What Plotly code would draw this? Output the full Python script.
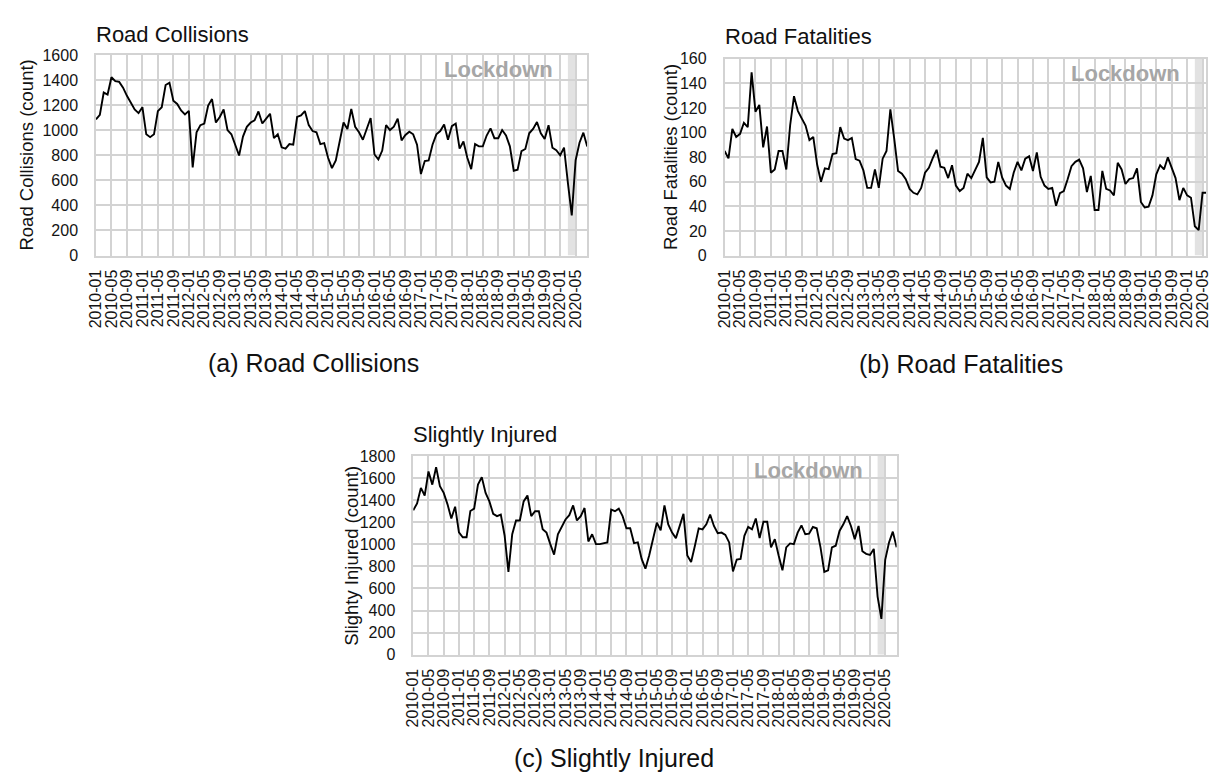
import plotly.graph_objects as go

# ---------------- data ----------------
months = [f"{y}-{m:02d}" for y in range(2010, 2021) for m in range(1, 13)][:128]  # 2010-01 .. 2020-08

tick_labels = ["2010-01", "2010-05", "2010-09", "2011-01", "2011-05", "2011-09",
               "2012-01", "2012-05", "2012-09", "2013-01", "2013-05", "2013-09",
               "2014-01", "2014-05", "2014-09", "2015-01", "2015-05", "2015-09",
               "2016-01", "2016-05", "2016-09", "2017-01", "2017-05", "2017-09",
               "2018-01", "2018-05", "2018-09", "2019-01", "2019-05", "2019-09",
               "2020-01", "2020-05"]

road_collisions = [
    1087, 1123, 1300, 1284, 1422, 1391, 1385, 1339, 1274, 1217,
    1165, 1136, 1183, 967, 944, 967, 1152, 1183, 1360, 1378,
    1235, 1209, 1157, 1126, 1154, 702, 983, 1040, 1053, 1196,
    1248, 1061, 1105, 1165, 1001, 967, 884, 798, 949, 1027,
    1061, 1079, 1149, 1053, 1092, 1131, 936, 967, 863, 853,
    889, 884, 1105, 1118, 1152, 1040, 993, 983, 889, 897,
    780, 697, 759, 923, 1061, 1009, 1170, 1027, 983, 923,
    1009, 1097, 806, 767, 837, 1040, 1001, 1027, 1092, 918,
    962, 988, 967, 884, 650, 754, 759, 884, 967, 993,
    1045, 923, 1032, 1053, 853, 910, 780, 689, 889, 871,
    871, 957, 1014, 936, 936, 1001, 957, 871, 676, 684,
    833, 850, 975, 1010, 1065, 975, 930, 1040, 860, 840,
    800, 860, 580, 320, 760, 900, 980, 870]

road_fatalities = [
    85, 79, 103, 96.5, 99, 108, 104.5, 149, 117, 122.5,
    88, 105, 67.4, 70, 85, 85, 70, 106, 129.6, 117.7,
    111.6, 105.8, 93.9, 96.5, 74, 60, 70.9, 70.3, 82.5, 83.3,
    104.5, 95.2, 93.9, 95.7, 78.5, 77.2, 69.3, 55, 55, 70,
    55, 78.8, 85, 119, 95.2, 68.8, 66.6, 62.1, 54.2, 51,
    49.7, 55, 67.4, 71.4, 79.3, 86, 72.2, 71.4, 63, 73.5,
    56.9, 52.4, 55, 66.6, 63, 69.3, 76.2, 95.7, 63.5, 59.5,
    60, 76.2, 63.5, 56.9, 54.2, 67.4, 76.2, 69.3, 78.8, 80.7,
    68.8, 83.8, 64, 56.9, 54.2, 55, 40.5, 50.8, 52.4, 62.1,
    72.7, 76.2, 78, 70.9, 51.6, 64.8, 37, 37, 68.8, 54.2,
    52.9, 48.9, 75.4, 70, 58.2, 62.1, 63, 70.9, 43.6, 39.1,
    39.7, 48.9, 66.1, 73.5, 70, 79.9, 70.9, 63, 45, 55,
    48.9, 47, 23.8, 20.6, 51, 51]

slightly_injured = [
    1308, 1371, 1511, 1442, 1660, 1541, 1699, 1526, 1466, 1362,
    1234, 1341, 1108, 1064, 1064, 1302, 1323, 1541, 1609, 1466,
    1389, 1276, 1255, 1270, 1080, 749, 1091, 1216, 1216, 1389,
    1442, 1255, 1300, 1300, 1136, 1106, 1002, 907, 1091, 1166,
    1225, 1264, 1353, 1216, 1255, 1329, 1026, 1091, 1002, 1002,
    1011, 1017, 1314, 1300, 1323, 1255, 1145, 1145, 1011, 1017,
    868, 779, 900, 1060, 1196, 1127, 1353, 1180, 1106, 1056,
    1166, 1276, 898, 839, 987, 1145, 1136, 1181, 1270, 1166,
    1100, 1106, 1085, 1017, 755, 862, 868, 1077, 1157, 1136,
    1234, 1056, 1204, 1204, 972, 1047, 898, 764, 972, 1008,
    1002, 1106, 1172, 1091, 1097, 1157, 1145, 972, 749, 764,
    972, 987, 1121, 1181, 1255, 1166, 1047, 1166, 937, 913,
    904, 958, 526, 324, 859, 1017, 1115, 972]

lockdown_start = "2020-03"
lockdown_end = "2020-05"

# ---------------- styling ----------------
W, H = 1211, 782
FONT = "Liberation Sans, Arial, sans-serif"
GRID = "#d3d3d3"
BAND = "#e2e2e2"
TXT = "#141414"


def px(x):
    return x / W


def py(y):
    return 1 - y / H


fig = go.Figure()

panels = [
    # (suffix, y data, x domain px, y domain px, y max, dtick, x range end)
    ("", road_collisions, (88, 585), (48, 253), 1600, 200, 127),
    ("2", road_fatalities, (724, 1211), (52, 253), 160, 20, 124.9),
    ("3", slightly_injured, (409, 898), (458, 661), 1800, 200, 127),
]

for suf, ys, (x0, x1), (yt, yb), ymax, dt, xend in panels:
    fig.add_trace(go.Scatter(
        x=months[:len(ys)], y=ys, mode="lines",
        line=dict(color="#000000", width=1.9),
        xaxis="x" + suf, yaxis="y" + suf, showlegend=False,
        hoverinfo="x+y"))
    fig.update_layout(**{
        "xaxis" + suf: dict(
            domain=[px(x0), px(x1)], anchor="y" + suf, type="category",
            categoryorder="array", categoryarray=months,
            range=[0, xend], tickmode="array", tickvals=tick_labels,
            ticktext=tick_labels, tickangle=-90,
            tickfont=dict(family=FONT, size=16, color=TXT),
            showgrid=True, gridcolor=GRID, gridwidth=1.5,
            showline=True, linecolor=GRID, linewidth=1.5, mirror=True,
            ticks="", ticklabelstandoff=6, zeroline=False, fixedrange=True),
        "yaxis" + suf: dict(
            domain=[py(yb), py(yt)], anchor="x" + suf,
            range=[0, ymax], dtick=dt, tick0=0,
            tickfont=dict(family=FONT, size=16, color=TXT),
            showgrid=True, gridcolor=GRID, gridwidth=1.5,
            showline=True, linecolor=GRID, linewidth=1.5, mirror=True,
            ticks="", ticklabelstandoff=13, zeroline=False, fixedrange=True),
    })
    # lockdown band
    fig.add_shape(type="rect", xref="x" + suf, yref="y" + suf,
                  x0=months.index(lockdown_start), x1=months.index(lockdown_end),
                  y0=0, y1=ymax, fillcolor=BAND, line=dict(width=0), layer="below")
    fig.add_annotation(xref="x" + suf, yref="y" + suf,
                       x=months.index(lockdown_start), y=ymax * 0.925,
                       xanchor="right", yanchor="middle", xshift=-13,
                       text="<b>Lockdown</b>", showarrow=False,
                       font=dict(family=FONT, size=22, color="#a6a6a6"))

# titles, axis titles, captions
texts = [
    ("Road Collisions", 86, 27, "left", 0, 22),
    ("Road Fatalities", 722, 29, "left", 0, 22),
    ("Slightly Injured", 407, 436, "left", 0, 22),
    ("Road Collisions (count)", 18, 150, "center", -90, 18.5),
    ("Road Fatalities (count)", 669, 152, "center", -90, 18.5),
    ("Slighty Injured (count)", 347, 560, "center", -90, 18.5),
    ("(a) Road Collisions", 308, 363, "center", 0, 25),
    ("(b) Road Fatalities", 963, 364, "center", 0, 25),
    ("(c) Slightly Injured", 612, 767, "center", 0, 25),
]
for t, x, y, xa, ang, sz in texts:
    fig.add_annotation(xref="paper", yref="paper", x=px(x), y=py(y),
                       xanchor=xa, yanchor="middle", text=t, textangle=ang,
                       showarrow=False, font=dict(family=FONT, size=sz, color="#111111"))

fig.update_layout(width=W, height=H, autosize=False,
                  margin=dict(l=0, r=0, t=0, b=0),
                  paper_bgcolor="white", plot_bgcolor="white",
                  font=dict(family=FONT, color=TXT))

fig.write_html("out.html", config={"displayModeBar": False})
